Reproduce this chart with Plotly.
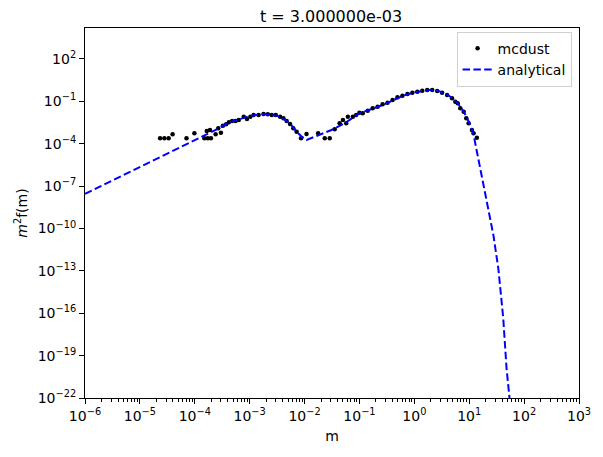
import plotly.graph_objects as go

# mcdust samples (log10 m, log10 m^2 f(m))
mc_log_m = [-4.632, -4.554, -4.476, -4.404, -4.151, -4.007, -3.826, -3.764, -3.705, -3.782,
            -3.723, -3.620, -3.524, -3.573, -3.488, -3.428, -3.379, -3.320, -3.258, -3.199,
            -3.108, -3.049, -2.987, -2.928, -2.837, -2.747, -2.669, -2.597, -2.524, -2.445,
            -2.385, -2.326, -2.264, -2.205, -2.145, -2.065, -1.964, -1.753, -1.632, -1.541,
            -1.451, -1.361, -1.301, -1.241, -1.211, -1.120, -1.061, -1.000, -0.940, -0.849,
            -0.759, -0.668, -0.578, -0.488, -0.397, -0.307, -0.217, -0.126, -0.036, 0.055,
            0.145, 0.235, 0.326, 0.416, 0.506, 0.597, 0.687, 0.747, 0.790, 0.837,
            0.899, 0.946, 0.989, 1.049, 1.079, 1.139]
mc_log_f = [-3.614, -3.614, -3.614, -3.331, -3.614, -3.260, -3.614, -3.614, -3.614, -3.097,
            -3.027, -3.331, -3.218, -2.906, -2.722, -2.623, -2.481, -2.389, -2.389, -2.319,
            -2.085, -2.248, -2.085, -1.965, -1.965, -1.894, -1.915, -1.965, -1.965, -2.085,
            -2.198, -2.389, -2.602, -2.906, -3.147, -3.614, -3.310, -3.260, -3.614, -3.614,
            -2.977, -2.552, -2.319, -2.552, -2.085, -2.085, -1.965, -1.802, -1.844, -1.660,
            -1.490, -1.377, -1.207, -1.094, -0.903, -0.712, -0.598, -0.478, -0.386, -0.315,
            -0.244, -0.195, -0.195, -0.265, -0.386, -0.549, -0.782, -1.023, -1.136, -1.490,
            -1.731, -2.198, -2.552, -3.027, -3.260, -3.572]

# analytical solution (log10 m, log10 m^2 f(m))
an_log_m = [-6.0, -5.0, -4.52, -3.86, -3.56, -3.38, -3.2, -3.05, -2.9, -2.75, -2.6, -2.45,
            -2.33, -2.26, -2.2, -2.145, -2.05, -1.96, -1.81, -1.51, -1.27, -1.0, -0.8, -0.6,
            -0.4, -0.2, 0.0, 0.2, 0.3, 0.45, 0.6, 0.7, 0.8, 0.9, 1.0, 1.08, 1.2, 1.32,
            1.44, 1.53, 1.62, 1.68, 1.73, 1.76]
an_log_f = [-7.55, -5.65, -4.73, -3.43, -2.91, -2.5, -2.28, -2.1, -1.97, -1.9, -1.95, -2.08,
            -2.39, -2.6, -2.88, -3.15, -3.5, -3.73, -3.5, -3.03, -2.55, -1.85, -1.58, -1.3,
            -0.95, -0.6, -0.36, -0.22, -0.19, -0.28, -0.52, -0.8, -1.18, -1.73, -2.5, -3.38,
            -5.74, -8.10, -10.46, -12.82, -16.36, -19.9, -21.8, -23.0]

x_tick_exps = [-6, -5, -4, -3, -2, -1, 0, 1, 2, 3]
y_tick_exps = [-22, -19, -16, -13, -10, -7, -4, -1, 2]

x_title = "m"
y_title = "<i>m</i><sup>2</sup>f(m)"
plot_title = "t = 3.000000e-03"

FONT = "DejaVu Sans"


def pow_label(e):
    return "10<sup>" + (str(e).replace("-", "\u2212")) + "</sup>"


fig = go.Figure()
fig.add_trace(go.Scatter(
    x=[10 ** v for v in mc_log_m], y=[10 ** v for v in mc_log_f],
    mode="markers", name="mcdust",
    marker=dict(color="black", size=4.5, line=dict(width=0)),
))
fig.add_trace(go.Scatter(
    x=[10 ** v for v in an_log_m], y=[10 ** v for v in an_log_f],
    mode="lines", name="analytical",
    line=dict(color="#0000ff", width=2, dash="7.5px,3.3px"),
))

axis_common = dict(
    type="log", showline=True, linecolor="black", linewidth=1.1, mirror=True,
    ticks="outside", ticklen=5, tickwidth=1.1, tickcolor="black",
    showgrid=False, zeroline=False,
    tickfont=dict(family=FONT, size=14, color="black"),
    title_font=dict(family=FONT, size=14, color="black"),
)

fig.update_layout(
    width=603, height=457,
    margin=dict(l=85, r=20, t=28, b=59),
    paper_bgcolor="white", plot_bgcolor="white",
    title=dict(text=plot_title, x=331 / 603, xref="container", xanchor="center",
               y=1 - 16 / 457, yref="container", yanchor="middle",
               font=dict(family=FONT, size=16, color="black")),
    font=dict(family=FONT, color="black"),
    xaxis=dict(axis_common, range=[-6, 3], tickmode="array",
               tickvals=[10.0 ** e for e in x_tick_exps],
               ticktext=[pow_label(e) for e in x_tick_exps],
               title=dict(text=x_title, standoff=8),
               minor=dict(ticks="outside", ticklen=3, tickwidth=0.8, tickcolor="black",
                          dtick="D1", showgrid=False)),
    yaxis=dict(axis_common, range=[-22, 4.19], tickmode="array",
               tickvals=[10.0 ** e for e in y_tick_exps],
               ticktext=[pow_label(e) for e in y_tick_exps],
               title=dict(text=y_title, standoff=6)),
    legend=dict(x=0.985, y=0.99, xanchor="right", yanchor="top",
                bgcolor="rgba(255,255,255,0.8)", bordercolor="#d0d0d0", borderwidth=1,
                font=dict(family=FONT, size=14, color="black"),
                itemwidth=30, tracegroupgap=0),
    showlegend=True,
)

fig.write_html("out.html")
